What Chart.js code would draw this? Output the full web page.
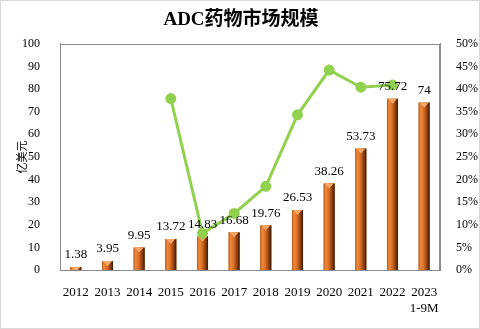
<!DOCTYPE html>
<html>
<head>
<meta charset="utf-8">
<script src="https://cdn.jsdelivr.net/npm/chart.js@4"></script>
<style>
  html, body { margin: 0; padding: 0; background: #fff; }
  #wrap { width: 480px; height: 329px; }
</style>
</head>
<body>
<div id="wrap"><canvas id="adcChart" width="480" height="329"></canvas></div>
<script>
const years = ['2012','2013','2014','2015','2016','2017','2018','2019','2020','2021','2022',['2023','1-9M']];
const marketSize = [1.38, 3.95, 9.95, 13.72, 14.83, 16.68, 19.76, 26.53, 38.26, 53.73, 75.72, 74];
const growthRate = [null, null, null, 0.379, 0.081, 0.125, 0.185, 0.343, 0.442, 0.404, 0.409, null];

const serif = '"Liberation Serif", "Times New Roman", serif';
const BAR_INDEX = 1;

const decor = {
  id: 'decor',
  beforeDraw(chart) {
    const c = chart.ctx;
    c.save();
    c.fillStyle = '#fff';
    c.fillRect(0, 0, chart.width, chart.height);
    c.strokeStyle = '#d9d9d9';
    c.lineWidth = 1;
    c.strokeRect(0.5, 0.5, chart.width - 1, chart.height - 1);
    c.restore();
  },
  // shade the columns right after they are drawn, so the line stays on top
  afterDatasetDraw(chart, args) {
    if (args.index !== BAR_INDEX) return;
    const c = chart.ctx;
    c.save();
    args.meta.data.forEach(bar => {
      const w = bar.width, x0 = bar.x - w / 2, x1 = bar.x + w / 2;
      const g = c.createLinearGradient(x0, 0, x1, 0);
      g.addColorStop(0, '#b4561c');
      g.addColorStop(0.18, '#ee8a3a');
      g.addColorStop(0.45, '#de7026');
      g.addColorStop(0.78, '#873c10');
      g.addColorStop(1, '#3a1a05');
      c.fillStyle = g;
      c.fillRect(x0, bar.y, w, bar.base - bar.y);
      // small cap on top
      c.beginPath();
      c.moveTo(x0 + 1, bar.y);
      c.lineTo(x1 - 1, bar.y);
      c.lineTo(bar.x, bar.y + 5);
      c.closePath();
      c.fillStyle = '#f8a867';
      c.fill();
    });
    c.restore();
  },
  afterDatasetsDraw(chart) {
    const c = chart.ctx;
    const a = chart.chartArea;
    const meta = chart.getDatasetMeta(BAR_INDEX);
    // value labels over the columns
    c.save();
    c.font = '13px ' + serif;
    c.fillStyle = '#000';
    c.textAlign = 'center';
    c.textBaseline = 'middle';
    meta.data.forEach((bar, i) => {
      c.fillText(String(marketSize[i]), bar.x, bar.y - 12);
    });
    c.restore();
    // plot frame
    c.save();
    c.strokeStyle = '#8c8c8c';
    c.lineWidth = 1;
    c.strokeRect(Math.round(a.left) + 0.5, Math.round(a.top) + 0.5,
      Math.round(a.right - a.left) - 1, Math.round(a.bottom - a.top));
    c.restore();
  }
};

new Chart(document.getElementById('adcChart').getContext('2d'), {
  data: {
    labels: years,
    datasets: [
      {
        type: 'line', label: '增长率', data: growthRate, yAxisID: 'y1',
        borderColor: '#92d050', backgroundColor: '#92d050', borderWidth: 3,
        pointRadius: 4, pointHoverRadius: 4, tension: 0, spanGaps: false, order: 0
      },
      {
        type: 'bar', label: '市场规模', data: marketSize, yAxisID: 'y',
        backgroundColor: '#d9722a', borderWidth: 0,
        categoryPercentage: 1, barPercentage: 0.35, order: 1
      }
    ]
  },
  options: {
    responsive: false,
    animation: false,
    layout: { padding: { left: 2, right: 0, top: 0, bottom: 0 } },
    plugins: {
      legend: { display: false },
      tooltip: { enabled: false },
      title: {
        display: true, text: 'ADC药物市场规模', color: '#000',
        font: { family: serif + ', "Noto Sans CJK SC"', size: 19, weight: 'bold' },
        padding: { top: 9, bottom: 12 }
      }
    },
    scales: {
      x: {
        offset: true,
        grid: { display: false },
        border: { color: '#8c8c8c' },
        ticks: { color: '#000', font: { family: serif, size: 13 }, padding: 7, maxRotation: 0, autoSkip: false },
        afterFit(s) { s.height = 59; }
      },
      y: {
        position: 'left', min: 0, max: 100,
        grid: { display: false },
        border: { color: '#8c8c8c' },
        ticks: { stepSize: 10, color: '#000', font: { family: serif, size: 12 }, padding: 12 },
        title: { display: true, text: '亿美元', color: '#000', font: { family: '"Noto Sans CJK SC", sans-serif', size: 11 }, padding: { top: 13, bottom: 0 } },
        afterFit(s) { s.width = 58; }
      },
      y1: {
        position: 'right', min: 0, max: 0.5,
        grid: { display: false },
        border: { color: '#8c8c8c' },
        ticks: {
          stepSize: 0.05, color: '#000', font: { family: serif, size: 12 }, padding: 8,
          callback: v => Math.round(v * 100) + '%'
        },
        afterFit(s) { s.width = 40; }
      }
    }
  },
  plugins: [decor]
});
</script>
</body>
</html>
